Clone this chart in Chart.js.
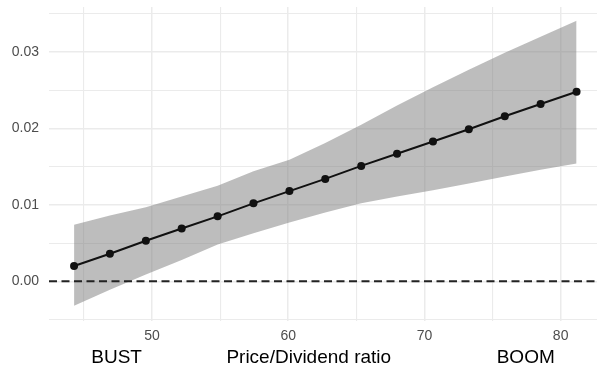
<!DOCTYPE html>
<html>
<head>
<meta charset="utf-8">
<script src="https://cdn.jsdelivr.net/npm/chart.js@4"></script>
<style>
  body { margin: 0; background: #fff; }
  #chart { display: block; }
</style>
</head>
<body>
<canvas id="chart" width="597" height="367"></canvas>
<script>
// values
const pdRatio = [44.28, 46.91, 49.55, 52.18, 54.82, 57.45, 60.09, 62.72, 65.36, 67.99, 70.63, 73.26, 75.90, 78.53, 81.17];
const effect = [0.0020, 0.0036, 0.0053, 0.0069, 0.0085, 0.0102, 0.0118, 0.0134, 0.0151, 0.0167, 0.0183, 0.0199, 0.0216, 0.0232, 0.0248];
const upperCI = [0.0074, 0.0086, 0.0097, 0.0111, 0.0125, 0.0144, 0.0159, 0.0181, 0.0205, 0.0230, 0.0254, 0.0277, 0.0299, 0.0320, 0.0341];
const lowerCI = [-0.0032, -0.0011, 0.0009, 0.0028, 0.0048, 0.0063, 0.0077, 0.0090, 0.0102, 0.0111, 0.0119, 0.0128, 0.0137, 0.0146, 0.0154];

const xTicks = [45, 50, 55, 60, 65, 70, 75, 80];
const xLabels = [50, 60, 70, 80];
const yTicks = [-0.005, 0, 0.005, 0.01, 0.015, 0.02, 0.025, 0.03, 0.035];
const yLabels = [0, 0.01, 0.02, 0.03];

const xMin = 42.44, xMax = 82.67;
const yMin = -0.0052, yMax = 0.0359;

const FONT = '"Liberation Sans", Arial, Helvetica, sans-serif';

function points(ys) {
    return pdRatio.map((x, i) => ({ x: x, y: ys[i] }));
}

function isLabel(list, v) {
    return list.some(l => Math.abs(l - v) < 1e-9);
}

new Chart(document.getElementById('chart'), {
    type: 'line',
    data: {
        datasets: [
            {
                data: points(effect),
                borderColor: '#111111',
                borderWidth: 2,
                pointRadius: 4,
                pointBackgroundColor: '#111111',
                pointBorderWidth: 0,
                fill: false
            },
            {
                data: [{ x: xMin, y: 0 }, { x: xMax, y: 0 }],
                borderColor: '#222222',
                borderWidth: 2,
                borderDash: [8, 4.5],
                pointRadius: 0,
                fill: false
            },
            {
                data: points(upperCI),
                borderWidth: 0,
                borderColor: 'rgba(0,0,0,0)',
                pointRadius: 0,
                backgroundColor: 'rgba(128,128,128,0.52)',
                fill: '+1'
            },
            {
                data: points(lowerCI),
                borderWidth: 0,
                borderColor: 'rgba(0,0,0,0)',
                pointRadius: 0,
                fill: false
            }
        ]
    },
    options: {
        responsive: false,
        animation: false,
        devicePixelRatio: 1,
        layout: { autoPadding: false, padding: { top: 7, right: 0, bottom: 0, left: 0 } },
        plugins: {
            legend: { display: false },
            tooltip: { enabled: false }
        },
        scales: {
            x: {
                type: 'linear',
                min: xMin,
                max: xMax,
                afterBuildTicks: scale => { scale.ticks = xTicks.map(v => ({ value: v })); },
                afterFit: scale => {
                    scale.height = 46;
                    scale.paddingLeft = 0;
                    scale.paddingRight = 0;
                },
                border: { display: false },
                grid: {
                    drawTicks: false,
                    color: '#EBEBEB',
                    lineWidth: ctx => isLabel(xLabels, ctx.tick.value) ? 1.5 : 1.1
                },
                ticks: {
                    padding: 7,
                    color: '#4D4D4D',
                    font: { family: FONT, size: 14 },
                    maxRotation: 0,
                    autoSkip: false,
                    callback: v => isLabel(xLabels, v) ? String(v) : ''
                },
                title: {
                    display: true,
                    text: 'BUST                Price/Dividend ratio                    BOOM',
                    color: '#000000',
                    font: { family: FONT, size: 19, lineHeight: 1 },
                    padding: { top: 0, bottom: 0 }
                }
            },
            y: {
                type: 'linear',
                min: yMin,
                max: yMax,
                afterBuildTicks: scale => { scale.ticks = yTicks.map(v => ({ value: v })); },
                afterFit: scale => {
                    scale.width = 49;
                    scale.paddingTop = 0;
                    scale.paddingBottom = 0;
                },
                border: { display: false },
                grid: {
                    drawTicks: false,
                    color: '#EBEBEB',
                    lineWidth: ctx => isLabel(yLabels, ctx.tick.value) ? 1.5 : 1.1
                },
                ticks: {
                    padding: 10,
                    color: '#4D4D4D',
                    font: { family: FONT, size: 14 },
                    autoSkip: false,
                    callback: v => isLabel(yLabels, v) ? v.toFixed(2) : ''
                }
            }
        }
    }
});
</script>
</body>
</html>
